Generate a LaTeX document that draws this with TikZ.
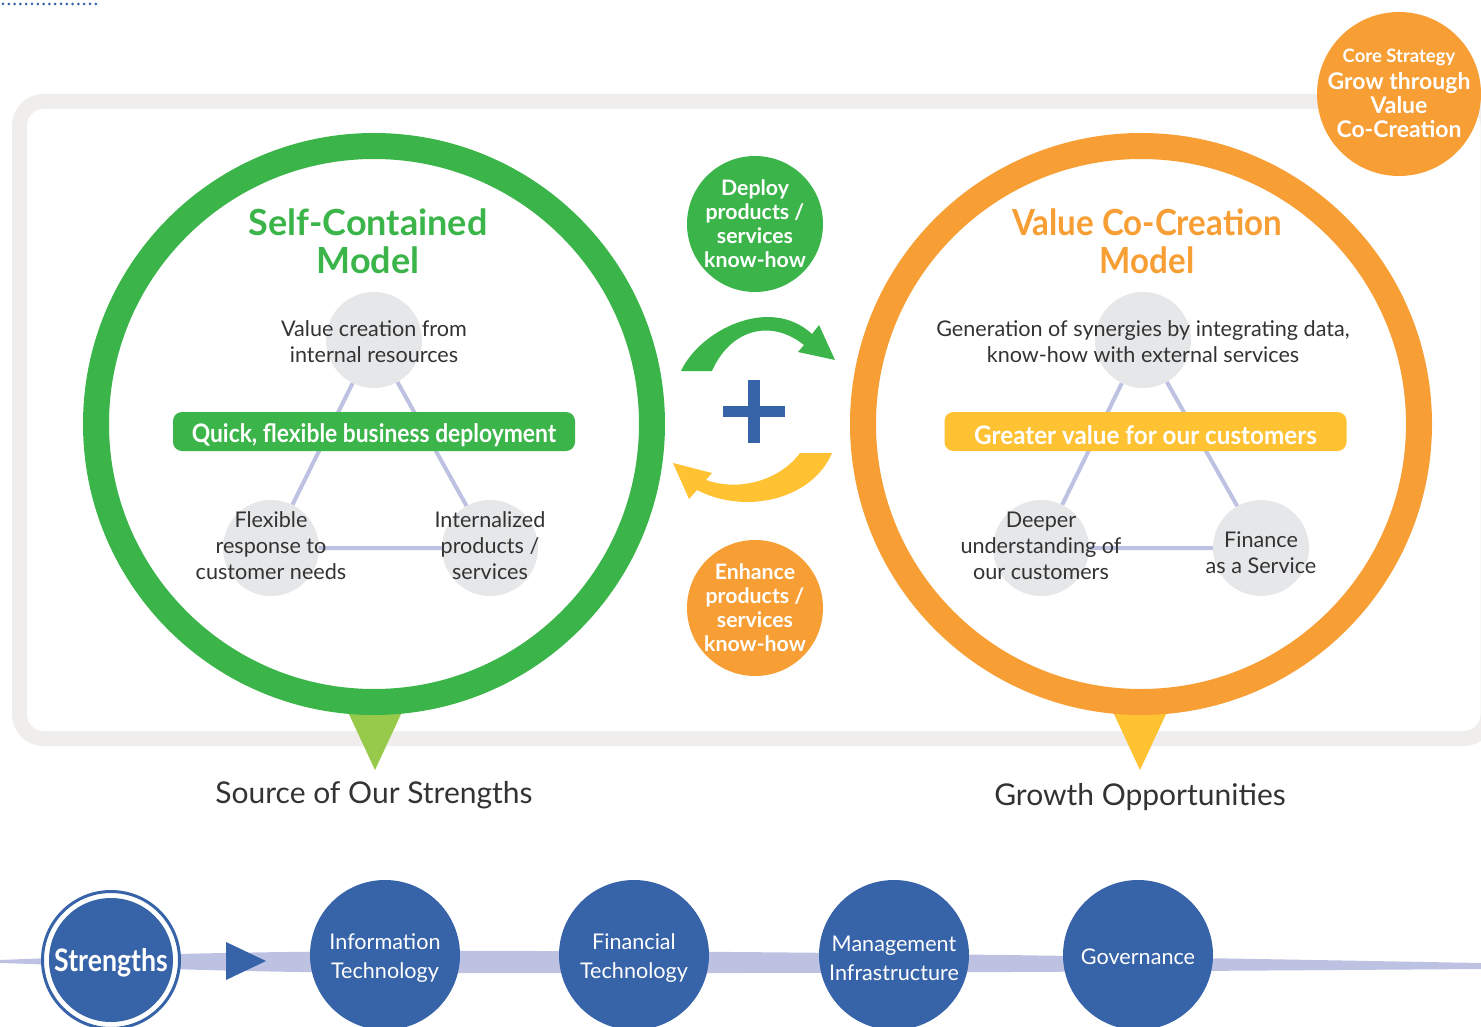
\documentclass[tikz,border=0pt]{standalone}
\usepackage{fontspec}
\setmainfont{Lato}
\newfontfamily\condL[FakeStretch=0.895]{Lato}
\newfontfamily\condR[FakeStretch=0.95]{Lato}
\newfontfamily\condT[FakeStretch=0.92]{Lato}
\newfontfamily\condb[FakeStretch=0.86]{Lato}
\definecolor{cgreen}{HTML}{3BB54A}
\definecolor{clgreen}{HTML}{97C94B}
\definecolor{corange}{HTML}{F79E35}
\definecolor{cyellow}{HTML}{FFC233}
\definecolor{cblue}{HTML}{3763A8}
\definecolor{clav}{HTML}{BEC2E2}
\definecolor{cgray}{HTML}{E6E7E9}
\definecolor{cframe}{HTML}{EFEEEC}
\definecolor{ctext}{HTML}{333333}
\tikzset{
  ring/.style={circle, draw=#1, line width=26, minimum size=556, inner sep=0},
  graycirc/.style={circle, fill=cgray, minimum size=96, inner sep=0},
  bodytxt/.style={text=ctext, align=center, font=\fontsize{21.6}{26}\selectfont, inner sep=0},
  title/.style={text=#1, align=center, font=\bfseries\fontsize{36}{38}\selectfont, inner sep=0},
  banner/.style={fill=#1, rounded corners=9, minimum width=402, minimum height=39, inner sep=0},
  bannertxt/.style={text=white, inner sep=0},
  smallcirc/.style={circle, fill=#1, minimum size=136, inner sep=0, text=white, align=center, font=\bfseries\fontsize{21.3}{24}\selectfont},
  bluecirc/.style={circle, fill=cblue, minimum size=150, inner sep=0},
  bluetxt/.style={text=white, align=center, font=\fontsize{21.6}{29}\selectfont, inner sep=0},
  tri/.style={draw=clav, line width=4},
  caption/.style={text=ctext, font=\fontsize{30}{32}\selectfont, inner sep=0},
}
\begin{document}
\begin{tikzpicture}[x=1pt,y=-1pt]
\useasboundingbox (0,0) rectangle (1481,1027);
% dotted line top left
\draw[cblue, line width=3, line cap=round, dash pattern=on 0pt off 5.8pt] (3,4) -- (96,4);
% frame
\draw[cframe, line width=15, rounded corners=24] (19.5,101.5) rectangle (1488,738.5);
% pointer triangles
\fill[clgreen] (348,712) -- (402,712) -- (375,770) -- cycle;
\fill[cyellow] (1113,712) -- (1167,712) -- (1140,770) -- cycle;
% rings
\node[ring=cgreen, fill=white] (lring) at (374,424) {};
\node[ring=corange, fill=white] (rring) at (1141,424) {};
% left triangle of circles
\node[graycirc] (lt) at (374,340) {};
\node[graycirc] (lbl) at (271,548) {};
\node[graycirc] (lbr) at (490,548) {};
\draw[tri] (lt) -- (lbl) -- (lbr) -- (lt);
\node[bodytxt] (ltt) at (374,342) {Value creation from\\internal resources};
\node[bodytxt] (lblt) at (271,546) {Flexible\\response to\\customer needs};
\node[bodytxt] (lbrt) at (490,546) {Internalized\\products /\\services};
% right triangle of circles
\node[graycirc] (rt) at (1143,340) {};
\node[graycirc] (rbl) at (1041,548) {};
\node[graycirc] (rbr) at (1261,548) {};
\draw[tri] (rt) -- (rbl) -- (rbr) -- (rt);
\node[bodytxt] (rtt) at (1143,342) {Generation of synergies by integrating data,\\know-how with external services};
\node[bodytxt] (rblt) at (1041,546) {Deeper\\understanding of\\our customers};
\node[bodytxt] (rbrt) at (1261,553) {Finance\\as a Service};
% banners
\node[banner=cgreen] (lban) at (374,431.5) {};
\node[bannertxt, font=\condL\bfseries\fontsize{25.5}{28}\selectfont] (lbant) at ([yshift=-4pt]lban.center) {Quick, flexible business deployment};
\node[banner=cyellow] (rban) at (1145.5,431.5) {};
\node[bannertxt, font=\condR\bfseries\fontsize{25.5}{28}\selectfont] (rbant) at ([yshift=-4pt]rban.center) {Greater value for our customers};
% titles
\node[title=cgreen] (ltitle) at (368,241) {Self-Contained\\Model};
\node[title=corange, font=\condT\bfseries\fontsize{36}{38}\selectfont] (rtitle) at (1147,241) {Value Co-Creation\\Model};
% small circles
\node[smallcirc=cgreen] (deploy) at (755,224) {Deploy\\products /\\services\\know-how};
\node[smallcirc=corange] (enhance) at (755,608) {Enhance\\products /\\services\\know-how};
% curved arrows
\fill[cgreen] (681,371) .. controls (700,330) and (770,295) .. (812,334) -- (819,325) -- (835,360) -- (798,352) -- (804,345) .. controls (770,318) and (730,330) .. (712,371) -- cycle;
\fill[cyellow] (800,453) -- (832,453) .. controls (812,500) and (745,515) .. (697,490) -- (689,499) -- (673,463) -- (712,473) -- (706,480) .. controls (740,492) and (780,480) .. (800,453) -- cycle;
% plus
\fill[cblue] (748,380) rectangle (760,443);
\fill[cblue] (723,406) rectangle (785,417);
% core strategy
\node[circle, fill=corange, minimum size=164, inner sep=0] (core) at (1399,94) {};
\node[text=white, align=center, font=\bfseries\fontsize{23}{24}\selectfont, inner sep=0] (coret) at ([yshift=1pt]core.center)
  {\fontsize{18.5}{22}\selectfont Core Strategy\\[3pt] \fontsize{23}{24}\selectfont Grow through\\[0pt] \fontsize{23}{24}\selectfont Value\\[0pt] \fontsize{23}{24}\selectfont Co-Creation};
% captions
\node[caption] (src) at (374,795) {Source of Our Strengths};
\node[caption] (grow) at (1140,797) {Growth Opportunities};
% bottom band
\fill[clav] (0,960) .. controls (100,956) and (200,952) .. (400,951) .. controls (800,950) and (1200,958) .. (1481,963) -- (1481,969) .. controls (1200,971) and (800,974) .. (400,973) .. controls (200,972) and (100,966) .. (0,963) -- cycle;
% strengths
\node[circle, draw=cblue, line width=3, fill=white, minimum size=137, inner sep=0] (strout) at (111,960) {};
\node[circle, fill=cblue, minimum size=124, inner sep=0] (str) at (111,960) {};
\node[text=white, inner sep=0, font=\condb\bfseries\fontsize{31}{34}\selectfont] (strt) at ([yshift=-3pt]str.center) {Strengths};
\fill[cblue] (226,942) -- (266,961) -- (226,980) -- cycle;
\node[bluecirc] (it) at (385,955) {};
\node[bluecirc] (ft) at (634,955) {};
\node[bluecirc] (mi) at (894,955) {};
\node[bluecirc] (gov) at (1138,955) {};
\node[bluetxt] (itt) at ([yshift=-3pt]it.center) {Information\\Technology};
\node[bluetxt] (ftt) at ([yshift=-3pt]ft.center) {Financial\\Technology};
\node[bluetxt] (mit) at ([yshift=-3pt]mi.center) {Management\\Infrastructure};
\node[bluetxt] (govt) at ([yshift=-2pt]gov.center) {Governance};
\end{tikzpicture}
\end{document}
